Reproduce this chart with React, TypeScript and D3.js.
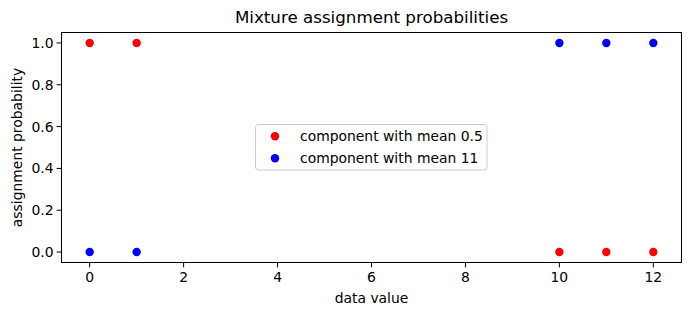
import React from "react";
import * as d3 from "d3";

const xValues = [0, 1, 10, 11, 12];
const probLow = [1, 1, 0, 0, 0];
const probHigh = [0, 0, 1, 1, 1];
const seriesNames = ["component with mean 0.5", "component with mean 11"];
const seriesColors = ["#ff0000", "#0000ff"];
const xTicks = [0, 2, 4, 6, 8, 10, 12];
const yTicks = [0, 0.2, 0.4, 0.6, 0.8, 1.0];

const W = 691, H = 316;
const L = 61.5, R = 681.5, T = 32.5, B = 262.5;
const FONT = "DejaVu Sans, sans-serif";

export default function App() {
  const x = d3.scaleLinear().domain([-0.6, 12.6]).range([L, R]);
  const y = d3.scaleLinear().domain([-0.05, 1.05]).range([B, T]);
  const series = [probLow, probHigh];
  return (
    <svg width={W} height={H} style={{ position: "absolute", left: 0, top: 0 }} fontFamily={FONT}>
      <rect width={W} height={H} fill="#fff" />
      <text x={(L + R) / 2} y={23} textAnchor="middle" fontSize={16.7}>Mixture assignment probabilities</text>
      {series.map((s, si) =>
        s.map((v, i) => (
          <circle key={`${si}-${i}`} cx={x(xValues[i])} cy={y(v)} r={4.2} fill={seriesColors[si]} />
        ))
      )}
      <rect x={L} y={T} width={R - L} height={B - T} fill="none" stroke="#000" strokeWidth={1} />
      {xTicks.map((t) => (
        <g key={t}>
          <line x1={x(t)} x2={x(t)} y1={B} y2={B + 4.9} stroke="#000" />
          <text x={x(t)} y={B + 19.5} textAnchor="middle" fontSize={13.9}>{t}</text>
        </g>
      ))}
      {yTicks.map((t) => (
        <g key={t}>
          <line x1={L - 4.9} x2={L} y1={y(t)} y2={y(t)} stroke="#000" />
          <text x={L - 8} y={y(t) + 5} textAnchor="end" fontSize={13.9}>{t.toFixed(1)}</text>
        </g>
      ))}
      <text x={(L + R) / 2} y={303} textAnchor="middle" fontSize={13.9}>data value</text>
      <text transform={`translate(22,${(T + B) / 2}) rotate(-90)`} textAnchor="middle" fontSize={13.9}>assignment probability</text>
      <rect x={255.5} y={124.5} width={231.5} height={45.5} rx={3} fill="#fff" fillOpacity={0.8} stroke="#ccc" />
      {seriesNames.map((n, i) => (
        <g key={n}>
          <circle cx={275} cy={136.3 + i * 22} r={4.2} fill={seriesColors[i]} />
          <text x={300} y={136.3 + i * 22 + 5} fontSize={13.9}>{n}</text>
        </g>
      ))}
    </svg>
  );
}
